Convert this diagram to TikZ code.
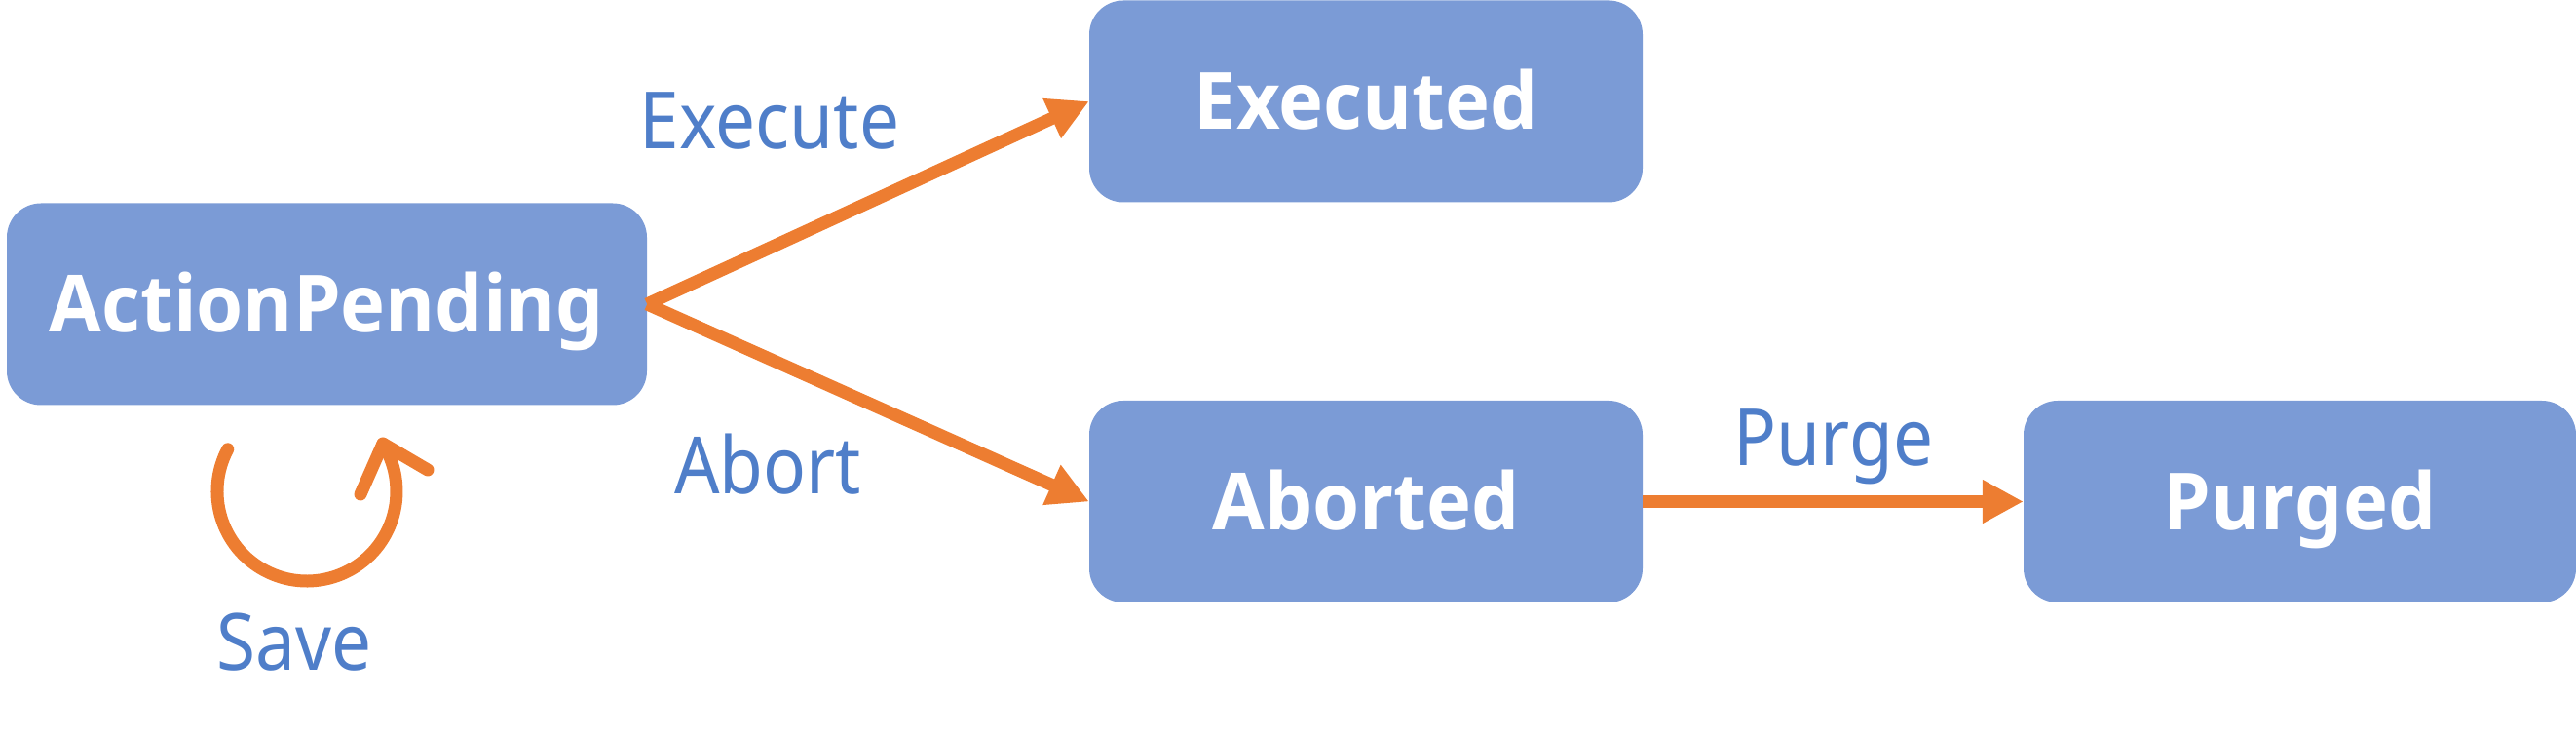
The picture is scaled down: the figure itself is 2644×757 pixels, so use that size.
\documentclass[tikz,border=0pt]{standalone}
\usepackage{fontspec}
\setmainfont{Noto Sans}
\newfontfamily\boxfont{Open Sans}[RawFeature={+salt;+ss01},FakeStretch=0.96]
\newfontfamily\lblfont{Noto Sans}[FakeStretch=0.9]
\usetikzlibrary{arrows.meta}
\definecolor{boxblue}{HTML}{7B9BD6}
\definecolor{lblblue}{HTML}{4F7EC9}
\definecolor{arrorange}{HTML}{ED7D31}
\tikzset{
  statebox/.style={rectangle, rounded corners=35pt, fill=boxblue, text=white,
    inner sep=0pt, minimum height=207pt, text height=58pt, text depth=0pt,
    font=\boxfont\bfseries\fontsize{81}{97}\selectfont},
  lbl/.style={text=lblblue, inner sep=0pt, text height=58pt, text depth=0pt,
    font=\lblfont\fontsize{81}{97}\selectfont},
  trans/.style={draw=arrorange, line width=13pt, -{Triangle[length=42pt,width=42pt]}},
  selfloop/.style={draw=arrorange, line width=13pt, line cap=round, line join=round}
}
\begin{document}
\begin{tikzpicture}[x=1pt,y=1pt]
\useasboundingbox (0,0) rectangle (2644,757);
\node[statebox, minimum width=657pt] (ap) at (335.5,445) {ActionPending};
\node[statebox, minimum width=568pt] (ex) at (1402,653) {Executed};
\node[statebox, minimum width=568pt] (ab) at (1402,242.5) {Aborted};
\node[statebox, minimum width=567pt] (pu) at (2360.5,242.5) {Purged};
\draw[trans] (ap.east) -- (ex.west);
\draw[trans] (ap.east) -- (ab.west);
\draw[trans] (ab.east) -- (pu.west);
\coordinate (lc) at (315,253);
\coordinate (ltip) at (393,302);
\coordinate (larm1) at (439,275);
\coordinate (larm2) at (370,250);
\draw[selfloop] (lc) ++(152:92) arc[start angle=152,end angle=392,radius=92];
\draw[selfloop] (larm1) -- (ltip) -- (larm2);
\node[lbl] (lexe) at (790,633) {Execute};
\node[lbl] (labo) at (788,279) {Abort};
\node[lbl] (lsav) at (302,98) {Save};
\node[lbl] (lpur) at (1882,308) {Purge};
\end{tikzpicture}
\end{document}
